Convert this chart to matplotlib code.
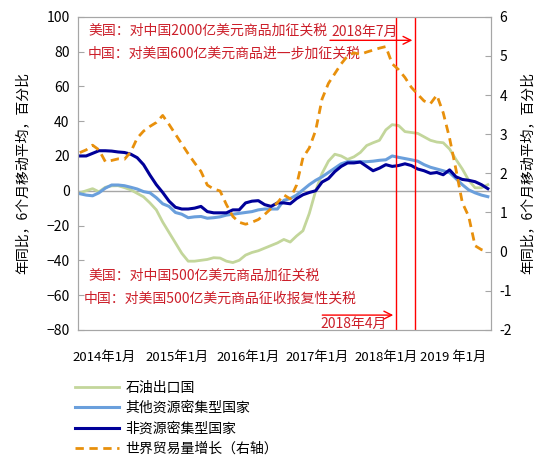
import numpy as np
import matplotlib
matplotlib.use("Agg")
import matplotlib.pyplot as plt

plt.rcParams['font.family'] = ['Noto Sans CJK SC', 'DejaVu Sans']
plt.rcParams['axes.unicode_minus'] = True

# 月度数据, 2014年1月起
oil = [-1.2, 0, 1.2, -0.6, 2, 2.8, 2.9, 1.8, 0.5, -1.5, -3.5, -7, -11, -18, -24, -30,
       -36, -40.5, -40.5, -40, -39.5, -38.5, -38.7, -40.5, -41.3, -40, -37, -35.5, -34.5,
       -33, -31.5, -30, -28, -29.5, -26, -23, -13, 0, 10, 17, 21, 20, 18, 19.5, 22, 26,
       27.6, 29, 35, 38, 37.5, 34, 33.5, 33, 31, 29, 28, 27.6, 24, 18, 12.5, 6, 1.7, 1.7, 3.5]
other_res = [-1.7, -2.5, -2.9, -1.2, 1.5, 3.3, 3.3, 2.9, 2, 1, -0.5, -1.2, -4, -7.5, -9,
             -12.5, -13.5, -15.5, -15, -14.8, -15.8, -15.5, -15, -14, -13.5, -13, -12.5,
             -12, -11, -10.5, -10.5, -10.5, -5.5, -4.5, -2.5, 0.5, 3.5, 6, 8, 10.5, 13,
             15.5, 16.7, 16.7, 16.7, 16.7, 17, 17.5, 17.8, 20, 19.2, 18.5, 17.8, 17, 15,
             13.5, 12.5, 11.5, 10.4, 7, 3.5, 0.5, -1.2, -2.5, -3.4]
non_res = [20, 20, 21.5, 23, 23, 22.8, 22.3, 22, 21, 19, 15, 9, 3.5, -1, -6, -9.5, -10.5,
           -10.5, -10, -9, -12, -12.7, -12.7, -12.7, -11, -11, -7, -6, -5.7, -8, -9, -7,
           -7, -7.5, -4.5, -2.3, -1, 0, 5, 7, 11, 14, 16, 16, 16.5, 14, 11.5, 13, 15, 14,
           14.5, 15.5, 14.5, 12.5, 11.5, 10, 10.5, 9.2, 12, 8, 6.5, 6, 5.2, 3.5, 1.2]
world_trade = [2.53, 2.6, 2.72, 2.6, 2.3, 2.33, 2.37, 2.36, 2.55, 2.9, 3.08, 3.2, 3.3,
               3.48, 3.25, 3.0, 2.75, 2.5, 2.27, 2.05, 1.7, 1.6, 1.55, 1.2, 0.9, 0.75,
               0.7, 0.75, 0.82, 0.95, 1.1, 1.25, 1.45, 1.35, 1.7, 2.4, 2.65, 3.1, 3.9,
               4.3, 4.55, 4.8, 5.0, 5.08, 5.04, 5.1, 5.15, 5.2, 5.24, 4.8, 4.65, 4.45,
               4.2, 4.02, 3.85, 3.78, 4.0, 3.55, 2.9, 2.1, 1.25, 0.9, 0.15, 0.05, 0.0]

x_labels = ['2014年1月', '2015年1月', '2016年1月', '2017年1月', '2018年1月', '2019 年1月']
legend_names = ['石油出口国', '其他资源密集型国家', '非资源密集型国家', '世界贸易量增长（右轴）']
ylabel = '年同比，6个月移动平均，百分比'

x = np.arange(len(oil))
red_txt = '#cc1f2a'

fig = plt.figure(figsize=(5.41, 4.55), dpi=100)
ax = fig.add_axes([0.144, 0.275, 0.7636, 0.688])
ax2 = ax.twinx()

l1, = ax.plot(x, oil, color='#c3d69b', lw=2.0)
l2, = ax.plot(x, other_res, color='#6a9fdc', lw=2.2)
l3, = ax.plot(x, non_res, color='#000099', lw=2.2)
l4, = ax2.plot(x, world_trade, color='#e8900c', lw=2.0, ls=(0, (3, 2)))

ax.axhline(0, color='#a6a6a6', lw=1, zorder=0)

ax.set_xlim(-0.3, 64.5)
ax.set_ylim(-80, 100)
ax.set_yticks(range(-80, 101, 20))
ax2.set_ylim(-2, 6)
ax2.set_yticks(range(-2, 7))
ax2.set_yticklabels([str(v) for v in range(-2, 7)])

ax.set_xticks([3.8, 15.2, 26.4, 37.3, 48.0, 58.6])
ax.set_xticklabels(x_labels, fontsize=9.5)
ax.tick_params(axis='x', length=0, pad=15)
ax.tick_params(axis='y', direction='in', length=4, color='#a6a6a6', labelsize=10, pad=6)
ax2.tick_params(axis='y', direction='in', length=4, color='#a6a6a6', labelsize=10, pad=6)

for a in (ax, ax2):
    for s in a.spines.values():
        s.set_color('#a6a6a6')

ax.set_ylabel(ylabel, fontsize=10, labelpad=12)
ax2.set_ylabel(ylabel, fontsize=10, labelpad=6)

# 事件竖线
for xv in (49.6, 52.6):
    ax.axvline(xv, color='#ff0000', lw=1.0)

ax.text(1.3, 92, '美国：对中国2000亿美元商品加征关税', color=red_txt, fontsize=10, va='center')
ax.text(1.3, 79, '中国：对美国600亿美元商品进一步加征关税', color=red_txt, fontsize=10, va='center')
ax.text(39.4, 91.5, '2018年7月', color=red_txt, fontsize=10, va='center')
ax.annotate('', xy=(52.6, 86.5), xytext=(38.8, 86.5),
            arrowprops=dict(arrowstyle='->', color='#ff0000', lw=1.0, mutation_scale=14))

ax.text(1.4, -49, '美国：对中国500亿美元商品加征关税', color=red_txt, fontsize=10, va='center')
ax.text(0.6, -62, '中国：对美国500亿美元商品征收报复性关税', color=red_txt, fontsize=10, va='center')
ax.text(37.8, -76.5, '2018年4月', color=red_txt, fontsize=10, va='center')
ax.annotate('', xy=(49.6, -71.5), xytext=(37.6, -71.5),
            arrowprops=dict(arrowstyle='->', color='#ff0000', lw=1.0, mutation_scale=14))

fig.legend([l1, l2, l3, l4], legend_names, loc='upper left',
           bbox_to_anchor=(0.128, 0.175), frameon=False, fontsize=10,
           handlelength=3.2, handletextpad=0.45, labelspacing=0.45, borderaxespad=0)

fig.savefig('out.png', dpi=100)
